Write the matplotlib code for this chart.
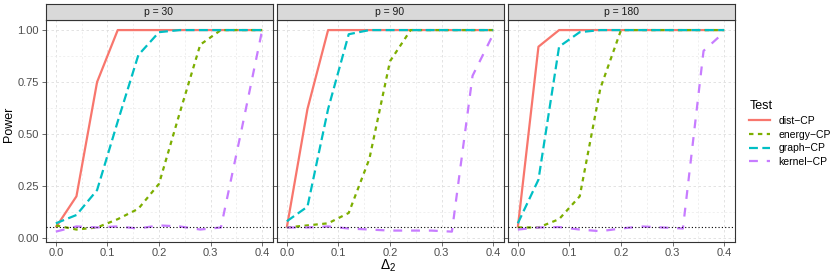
import matplotlib
matplotlib.use("Agg")
import matplotlib.pyplot as plt
from matplotlib.lines import Line2D

plt.rcParams["font.family"] = ["Liberation Sans", "DejaVu Sans"]
plt.rcParams["mathtext.fontset"] = "custom"
plt.rcParams["mathtext.rm"] = "Liberation Sans"
plt.rcParams["mathtext.it"] = "Liberation Sans"

# x grid of the simulation
delta = [0.00, 0.04, 0.08, 0.12, 0.16, 0.20, 0.24, 0.28, 0.32, 0.36, 0.40]

panels = ["p = 30", "p = 90", "p = 180"]
tests = ["dist\u2212CP", "energy\u2212CP", "graph\u2212CP", "kernel\u2212CP"]

# power values, one list per test and panel
dist_30 = [0.05, 0.20, 0.75, 1.00, 1.00, 1.00, 1.00, 1.00, 1.00, 1.00, 1.00]
energy_30 = [0.06, 0.04, 0.05, 0.09, 0.14, 0.26, 0.60, 0.93, 1.00, 1.00, 1.00]
graph_30 = [0.07, 0.11, 0.23, 0.56, 0.88, 0.99, 1.00, 1.00, 1.00, 1.00, 1.00]
kernel_30 = [0.03, 0.055, 0.05, 0.055, 0.045, 0.06, 0.055, 0.04, 0.05, 0.52, 1.00]

dist_90 = [0.05, 0.62, 1.00, 1.00, 1.00, 1.00, 1.00, 1.00, 1.00, 1.00, 1.00]
energy_90 = [0.05, 0.06, 0.07, 0.12, 0.38, 0.85, 1.00, 1.00, 1.00, 1.00, 1.00]
graph_90 = [0.08, 0.15, 0.62, 0.98, 1.00, 1.00, 1.00, 1.00, 1.00, 1.00, 1.00]
kernel_90 = [0.05, 0.05, 0.055, 0.045, 0.04, 0.035, 0.035, 0.035, 0.03, 0.78, 0.98]

dist_180 = [0.05, 0.92, 1.00, 1.00, 1.00, 1.00, 1.00, 1.00, 1.00, 1.00, 1.00]
energy_180 = [0.05, 0.05, 0.09, 0.20, 0.72, 1.00, 1.00, 1.00, 1.00, 1.00, 1.00]
graph_180 = [0.07, 0.28, 0.92, 0.99, 1.00, 1.00, 1.00, 1.00, 1.00, 1.00, 1.00]
kernel_180 = [0.04, 0.05, 0.052, 0.04, 0.032, 0.045, 0.055, 0.05, 0.045, 0.90, 0.99]

alpha_level = 0.05

data = {
    "p = 30": [dist_30, energy_30, graph_30, kernel_30],
    "p = 90": [dist_90, energy_90, graph_90, kernel_90],
    "p = 180": [dist_180, energy_180, graph_180, kernel_180],
}

colors = ["#F8766D", "#7CAE00", "#00BFC4", "#C77CFF"]
dashes = [None, (2, 2), (4, 2), (4, 4)]
lw = 1.6

W, H = 830, 277
fig = plt.figure(figsize=(W / 100, H / 100), dpi=100)

lefts = [45.5, 276.5, 507.5]
pw = 227
top_px, bot_px = 20, 241.7
strip_h = 16.5

for k, name in enumerate(panels):
    ax = fig.add_axes([lefts[k] / W, 1 - bot_px / H, pw / W, (bot_px - top_px) / H])
    for vals, c, d in zip(data[name], colors, dashes):
        ln, = ax.plot(delta, vals, color=c, lw=lw, solid_capstyle="butt",
                      dash_capstyle="butt")
        if d is not None:
            ln.set_dashes(d)
    ax.axhline(alpha_level, color="black", lw=0.8, ls=(0, (1, 2)), zorder=5)

    ax.set_xlim(-0.02, 0.42)
    ax.set_ylim(-0.0185, 1.0485)
    ax.set_xticks([0.0, 0.1, 0.2, 0.3, 0.4])
    ax.set_xticks([0.05, 0.15, 0.25, 0.35], minor=True)
    ax.set_yticks([0.0, 0.25, 0.5, 0.75, 1.0])
    ax.set_yticks([0.125, 0.375, 0.625, 0.875], minor=True)
    ax.set_xticklabels(["0.0", "0.1", "0.2", "0.3", "0.4"])
    if k == 0:
        ax.set_yticklabels(["0.00", "0.25", "0.50", "0.75", "1.00"])
    else:
        ax.set_yticklabels([])
        ax.tick_params(axis="y", length=0)
    ax.grid(which="major", color="#DEDEDE", lw=0.6, ls=(0, (3, 3)))
    ax.grid(which="minor", color="#EAEAEA", lw=0.5, ls=(0, (3, 3)))
    ax.set_axisbelow(True)
    ax.tick_params(which="major", length=2.75, width=0.5, color="#333333",
                   labelsize=8, labelcolor="#4D4D4D", pad=2)
    ax.tick_params(which="minor", length=0)
    for s in ax.spines.values():
        s.set_color("#333333")
        s.set_linewidth(0.8)

    # facet strip
    sax = fig.add_axes([lefts[k] / W, 1 - top_px / H, pw / W, strip_h / H])
    sax.set_facecolor("#D9D9D9")
    sax.set_xticks([])
    sax.set_yticks([])
    for s in sax.spines.values():
        s.set_color("#333333")
        s.set_linewidth(0.8)
    sax.text(0.5, 0.5, name, ha="center", va="center", fontsize=7.5,
             color="#1A1A1A", transform=sax.transAxes)

fig.text(9 / W, 1 - 124 / H, "Power", rotation=90, ha="center", va="center",
         fontsize=9)
fig.text(388 / W, 1 - 266 / H, r"$\Delta_2$", ha="center", va="center",
         fontsize=10)

handles = []
for c, d in zip(colors, dashes):
    h = Line2D([], [], color=c, lw=lw)
    if d is not None:
        h.set_dashes(d)
    handles.append(h)
leg = fig.legend(handles, tests, loc="upper left",
                 bbox_to_anchor=(740 / W, 1 - 91 / H), title="Test",
                 frameon=False, fontsize=7.5, title_fontsize=9,
                 handlelength=2.0, labelspacing=0.35, handletextpad=0.8,
                 alignment="left")

fig.savefig("out.png", dpi=100)
